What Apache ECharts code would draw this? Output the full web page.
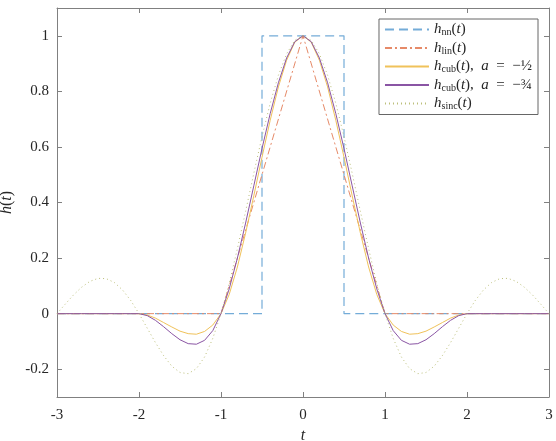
<!DOCTYPE html>
<html>
<head>
<meta charset="utf-8">
<script src="https://cdn.jsdelivr.net/npm/echarts@6/dist/echarts.min.js"></script>
<style>
  html, body { margin: 0; padding: 0; background: #fff; }
  #main { width: 556px; height: 441px; }
</style>
</head>
<body>
<div id="main"></div>
<script>
// sample points t = -3 .. 3, step 0.1
const tValues = [
  -3.0, -2.9, -2.8, -2.7, -2.6, -2.5, -2.4, -2.3, -2.2, -2.1,
  -2.0, -1.9, -1.8, -1.7, -1.6, -1.5, -1.4, -1.3, -1.2, -1.1,
  -1.0, -0.9, -0.8, -0.7, -0.6, -0.5, -0.4, -0.3, -0.2, -0.1,
  0,
  0.1, 0.2, 0.3, 0.4, 0.5, 0.6, 0.7, 0.8, 0.9, 1.0,
  1.1, 1.2, 1.3, 1.4, 1.5, 1.6, 1.7, 1.8, 1.9, 2.0,
  2.1, 2.2, 2.3, 2.4, 2.5, 2.6, 2.7, 2.8, 2.9, 3.0
];

// nearest neighbour (box)
const nnT = [-3, -0.5, -0.5, 0.5, 0.5, 3];
const nnH = [0, 0, 1, 1, 0, 0];

// linear (triangle)
const linT = [-3, -1, 0, 1, 3];
const linH = [0, 0, 1, 0, 0];

// cubic, a = -1/2
const cubHalf = [
  0, 0, 0, 0, 0, 0, 0, 0, 0, 0,
  0, -0.005, -0.016, -0.032, -0.048, -0.063, -0.072, -0.074, -0.064, -0.041,
  0, 0.069, 0.168, 0.290, 0.424, 0.563, 0.696, 0.816, 0.912, 0.977,
  1,
  0.977, 0.912, 0.816, 0.696, 0.563, 0.424, 0.290, 0.168, 0.069, 0,
  -0.041, -0.064, -0.074, -0.072, -0.063, -0.048, -0.032, -0.016, -0.005, 0,
  0, 0, 0, 0, 0, 0, 0, 0, 0, 0
];

// cubic, a = -3/4
const cubThreeQuarter = [
  0, 0, 0, 0, 0, 0, 0, 0, 0, 0,
  0, -0.007, -0.024, -0.047, -0.072, -0.094, -0.108, -0.110, -0.096, -0.061,
  0, 0.089, 0.200, 0.326, 0.460, 0.594, 0.720, 0.831, 0.920, 0.979,
  1,
  0.979, 0.920, 0.831, 0.720, 0.594, 0.460, 0.326, 0.200, 0.089, 0,
  -0.061, -0.096, -0.110, -0.108, -0.094, -0.072, -0.047, -0.024, -0.007, 0,
  0, 0, 0, 0, 0, 0, 0, 0, 0, 0
];

// sinc
const sincH = [
  0, 0.034, 0.067, 0.095, 0.116, 0.127, 0.126, 0.112, 0.085, 0.047,
  0, -0.052, -0.104, -0.151, -0.189, -0.212, -0.216, -0.198, -0.156, -0.089,
  0, 0.109, 0.234, 0.368, 0.505, 0.637, 0.757, 0.858, 0.935, 0.984,
  1,
  0.984, 0.935, 0.858, 0.757, 0.637, 0.505, 0.368, 0.234, 0.109, 0,
  -0.089, -0.156, -0.198, -0.216, -0.212, -0.189, -0.151, -0.104, -0.052, 0,
  0.047, 0.085, 0.112, 0.126, 0.127, 0.116, 0.095, 0.067, 0.034, 0
];

const yTicks = [-0.2, 0, 0.2, 0.4, 0.6, 0.8, 1];

const legendText = {
  nn: "{i|h}{s|nn}{n|(}{i|t}{n|)}",
  lin: "{i|h}{s|lin}{n|(}{i|t}{n|)}",
  cub05: "{i|h}{s|cub}{n|(}{i|t}{n|),  }{i|a}{n|  =  −½}",
  cub075: "{i|h}{s|cub}{n|(}{i|t}{n|),  }{i|a}{n|  =  −¾}",
  sinc: "{i|h}{s|sinc}{n|(}{i|t}{n|)}",
};

const serif = "'Liberation Serif', 'Times New Roman', serif";
const frameColor = "#808080";
const textColor = "#262626";

function pairs(xs, ys) {
  return xs.map((x, i) => [x, ys[i]]);
}

const chart = echarts.init(document.getElementById("main"));

const option = {
  animation: false,
  backgroundColor: "#fff",
  textStyle: { fontFamily: serif },
  grid: { left: 57, right: 7, top: 8, bottom: 44, outerBoundsMode: "none" },
  legend: {
    orient: "vertical",
    right: 18,
    top: 19,
    padding: [3, 6, 3, 5],
    itemWidth: 44,
    itemHeight: 14,
    itemGap: 3,
    backgroundColor: "#fff",
    borderColor: "#666",
    borderWidth: 1,
    borderRadius: 0,
    itemStyle: { opacity: 0 },
    data: ["nn", "lin", "cub05", "cub075", "sinc"],
    formatter: (name) => legendText[name],
    textStyle: {
      fontFamily: serif,
      color: textColor,
      rich: {
        i: { fontFamily: serif, fontStyle: "italic", fontSize: 15, lineHeight: 16, color: textColor },
        n: { fontFamily: serif, fontSize: 15, lineHeight: 16, color: textColor },
        s: { fontFamily: serif, fontSize: 10, lineHeight: 8, verticalAlign: "bottom", color: textColor },
      },
    },
  },
  xAxis: [
    {
      type: "value",
      min: -3,
      max: 3,
      interval: 1,
      name: "t",
      nameLocation: "middle",
      nameGap: 29,
      nameTextStyle: { fontFamily: serif, fontStyle: "italic", fontSize: 16, color: textColor },
      axisLine: { show: true, onZero: false, lineStyle: { color: frameColor, width: 1 } },
      axisTick: { show: true, inside: true, length: 5, lineStyle: { color: frameColor } },
      axisLabel: { fontFamily: serif, fontSize: 15, color: textColor, margin: 11 },
      splitLine: { show: false },
    },
    {
      type: "value",
      position: "top",
      min: -3,
      max: 3,
      interval: 1,
      axisLine: { show: true, onZero: false, lineStyle: { color: frameColor, width: 1 } },
      axisTick: { show: true, inside: true, length: 5, lineStyle: { color: frameColor } },
      axisLabel: { show: false },
      splitLine: { show: false },
    },
  ],
  yAxis: [
    {
      type: "value",
      min: -0.3,
      max: 1.1,
      name: "{i|h}{n|(}{i|t}{n|)}",
      nameLocation: "middle",
      nameGap: 31,
      nameTextStyle: {
        rich: {
          i: { fontFamily: serif, fontStyle: "italic", fontSize: 16, color: textColor },
          n: { fontFamily: serif, fontSize: 16, color: textColor },
        },
      },
      axisLine: { show: true, onZero: false, lineStyle: { color: frameColor, width: 1 } },
      axisTick: { show: true, inside: true, length: 5, customValues: yTicks, lineStyle: { color: frameColor } },
      axisLabel: { fontFamily: serif, fontSize: 15, color: textColor, margin: 8, customValues: yTicks },
      splitLine: { show: false },
    },
    {
      type: "value",
      position: "right",
      min: -0.3,
      max: 1.1,
      axisLine: { show: true, onZero: false, lineStyle: { color: frameColor, width: 1 } },
      axisTick: { show: true, inside: true, length: 5, customValues: yTicks, lineStyle: { color: frameColor } },
      axisLabel: { show: false, customValues: yTicks },
      splitLine: { show: false },
    },
  ],
  series: [
    {
      name: "nn",
      type: "line",
      symbol: "none",
      data: pairs(nnT, nnH),
      lineStyle: { color: "#74acd8", width: 1.2, type: [9, 5] },
      itemStyle: { color: "#74acd8" },
    },
    {
      name: "lin",
      type: "line",
      symbol: "none",
      data: pairs(linT, linH),
      lineStyle: { color: "#e68a68", width: 1, type: [7, 3, 2, 3] },
      itemStyle: { color: "#e68a68" },
    },
    {
      name: "cub05",
      type: "line",
      symbol: "none",
      data: pairs(tValues, cubHalf),
      lineStyle: { color: "#f0c25a", width: 1 },
      itemStyle: { color: "#f0c25a" },
    },
    {
      name: "cub075",
      type: "line",
      symbol: "none",
      data: pairs(tValues, cubThreeQuarter),
      lineStyle: { color: "#8a55a4", width: 1 },
      itemStyle: { color: "#8a55a4" },
    },
    {
      name: "sinc",
      type: "line",
      symbol: "none",
      data: pairs(tValues, sincH),
      lineStyle: { color: "#bcbf7a", width: 1, type: [1, 3] },
      itemStyle: { color: "#bcbf7a" },
    },
  ],
};

chart.setOption(option);
</script>
</body>
</html>
